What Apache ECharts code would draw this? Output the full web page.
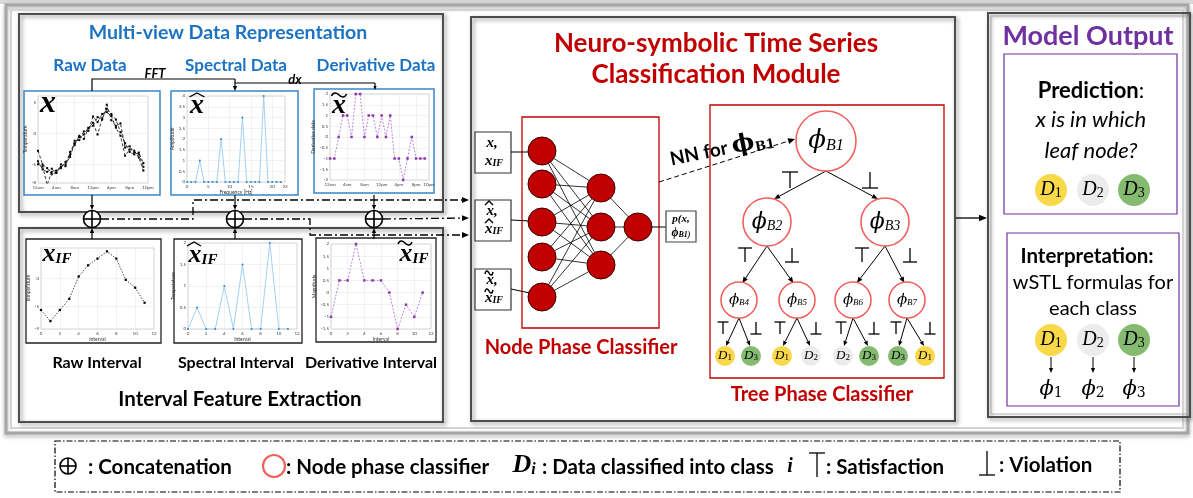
<!DOCTYPE html>
<html>
<head>
<meta charset="utf-8">
<script src="https://cdn.jsdelivr.net/npm/echarts@6/dist/echarts.min.js"></script>
<style>
html, body { margin: 0; padding: 0; background: #fff; }
#main { width: 1193px; height: 498px; }
</style>
</head>
<body>
<div id="main"></div>
<script>
// ---- data ----
var rawHours = [0, 1, 2, 3, 4, 5, 6, 7, 8, 9, 10, 11, 12, 13, 14, 15, 16, 17, 18, 19, 20, 21, 22, 23];
var rawA = [-2.8, -5, -5.6, -6.6, -6.3, -5.4, -5, -3.8, -1.6, -0.6, -0.2, 0.9, 1.2, 2.6, 2.2, 4.6, 2.1, 1.2, 1.6, -2.3, -2.1, -3.1, -3.4, -5.4];
var rawB = [-5, -5.3, -8.3, -6.2, -6, -5.6, -4.6, -3.4, -1.2, -1.1, 0.3, 0.4, 2.7, 1.8, 3.1, 3.4, 2.8, 0.9, -0.4, -3.6, -2.6, -2.8, -3.9, -6];
var rawC = [-4.5, -5.8, -6.2, -5.7, -6.4, -5, -5.3, -3, -1.9, -0.4, -0.9, 0.8, 1.7, -0.2, 2.4, 3.9, 3.1, 2.2, 0.2, -1.6, -3, -3.4, -3.1, -4.8];
var timeLabels = ['12am', '4am', '8am', '12pm', '4pm', '8pm', '10pm'];
var freqHz = [0, 1, 2, 3, 4, 5, 6, 7, 8, 9, 10, 11, 12, 13, 14, 15, 16, 17, 18, 19, 20, 21, 22];
var amplitude = [0, 0, 0, 1, 0, 0, 0, 0, 2, 0, 0, 0, 0, 3, 0, 0, 0, 0, 4, 0, 0, 0, 0];
var derivHours = [0, 1, 2, 3, 4, 5, 6, 7, 8, 9, 10, 11, 12, 13, 14, 15, 16, 17, 18, 19, 20, 21, 22];
var derivValues = [-1, -1, 0, 1, 1, 0, 2, 2, 0, 1, 1, 0, 1, 0, 1, -1, -1, -2, -1, 0, -1, -1, -1];
var intervals = [0, 1, 2, 3, 4, 5, 6, 7, 8, 9, 10, 11];
var rawInterval = [-5.6, -7.6, -5.6, -3.6, 0.4, 2.4, 3.6, 4.9, 3.6, -0.2, -1.6, -4.3];
var spectralInterval = [0, 0.5, 0, 0, 1, 0, 1.5, 0, 0, 2, 0, 0];
var derivInterval = [-1, 0.5, 0.5, 2, 0.5, 0.5, 0.5, 0, -1.5, -0.5, -1, 0];
var leafClasses = ['1', '3', '1', '2', '2', '3', '3', '1'];

var SANS = 'Lato, "Open Sans", sans-serif';
var SERIF = '"DejaVu Serif", "Liberation Serif", serif';
var MATH = '"Liberation Serif", "DejaVu Serif", serif';
var BLUE = '#1b73c2', RED = '#c00000', PURPLE = '#7030a0';
var classColor = { '1': '#f9d94a', '2': '#ececec', '3': '#85bb70' };

function pairs(xs, ys) {
    return xs.map(function (x, i) { return [x, ys[i]]; });
}

// ---- graphic helpers ----
var els = [];
function rect(x, y, w, h, st, z) {
    els.push({ type: 'rect', shape: { x: x, y: y, width: w, height: h }, style: st, z: z || 1 });
}
function circ(cx, cy, r, st, z) {
    els.push({ type: 'circle', shape: { cx: cx, cy: cy, r: r }, style: st, z: z || 3 });
}
function seg(x1, y1, x2, y2, st, z) {
    els.push({ type: 'line', shape: { x1: x1, y1: y1, x2: x2, y2: y2 },
        style: Object.assign({ stroke: '#000', lineWidth: 1 }, st || {}), z: z || 2 });
}
function poly(pts, st, z) {
    els.push({ type: 'polyline', shape: { points: pts },
        style: Object.assign({ stroke: '#000', lineWidth: 1, fill: null }, st || {}), z: z || 2 });
}
function txt(x, y, s, font, color, align, rot, rich) {
    var st = { text: s, font: font, fill: color || '#000', align: align || 'center', verticalAlign: 'middle' };
    if (rich) st.rich = rich;
    els.push({ type: 'text', x: x, y: y, rotation: rot || 0, style: st, z: 10 });
}
function arrow(pts, st, head) {
    var n = pts.length, a = pts[n - 2], b = pts[n - 1];
    var dx = b[0] - a[0], dy = b[1] - a[1], L = Math.sqrt(dx * dx + dy * dy);
    var ux = dx / L, uy = dy / L, h = head || 6, w = h * 0.42;
    var base = [b[0] - ux * h, b[1] - uy * h];
    poly(pts.slice(0, n - 1).concat([base]), st);
    els.push({ type: 'polygon', shape: { points: [b, [base[0] - uy * w, base[1] + ux * w], [base[0] + uy * w, base[1] - ux * w]] },
        style: { fill: (st && st.stroke) || '#000' }, z: 3 });
}
function oplus(cx, cy, r) {
    circ(cx, cy, r, { fill: '#fff', stroke: '#000', lineWidth: 1.6 });
    seg(cx - r, cy, cx + r, cy, { lineWidth: 1.6 }, 4);
    seg(cx, cy - r, cx, cy + r, { lineWidth: 1.6 }, 4);
}
function tee(x, y, w, h, up) {
    // up: satisfaction (bar on top), else violation (bar at bottom)
    if (up) { seg(x - w / 2, y - h / 2, x + w / 2, y - h / 2, { lineWidth: 1.3 }); }
    else { seg(x - w / 2, y + h / 2, x + w / 2, y + h / 2, { lineWidth: 1.3 }); }
    seg(x, y - h / 2, x, y + h / 2, { lineWidth: 1.3 });
}
function hat(cx, y, w) { poly([[cx - w / 2, y + 4], [cx, y], [cx + w / 2, y + 4]], { lineWidth: 1.4 }, 11); }
function tilde(cx, y, w) {
    els.push({ type: 'polyline', shape: { points: [[cx - w / 2, y + 3], [cx - w / 4, y], [cx + w / 4, y + 4], [cx + w / 2, y + 1]], smooth: 0.6 },
        style: { stroke: '#000', lineWidth: 1.5, fill: null }, z: 11 });
}
// symbol with subscript, e.g. phi_B1, D_1, x_IF
function symb(cx, cy, main, sub, size, font, subFont, color) {
    txt(cx, cy, '{m|' + main + '}{s|' + sub + '}', size + 'px ' + SERIF, color || '#000', 'center', 0, {
        m: { font: font, fill: color || '#000' },
        s: { font: subFont, fill: color || '#000', verticalAlign: 'bottom' }
    });
}
function dcircle(cx, cy, r, k, size) {
    circ(cx, cy, r, { fill: classColor[k], stroke: null });
    symb(cx, cy, 'D', k, size, 'italic ' + size + 'px ' + MATH, Math.round(size * 0.7) + 'px ' + MATH);
}

// ---- frame and panels ----
rect(0, 0, 1193, 4, { fill: '#d8d8d8' }, 0);
rect(6, 5, 1182, 428, { fill: null, stroke: '#a6a6a6', lineWidth: 3, shadowBlur: 4, shadowColor: 'rgba(0,0,0,0.35)', shadowOffsetY: 2 }, 1);
rect(11, 10, 1172, 418, { fill: null, stroke: '#d4d4d4', lineWidth: 2 }, 1);
var panelStyle = { fill: null, stroke: '#4d4d4d', lineWidth: 2, shadowBlur: 4, shadowColor: 'rgba(0,0,0,0.45)', shadowOffsetX: 2, shadowOffsetY: 2 };
rect(19, 14, 424, 198, panelStyle);
rect(19, 228, 424, 194, panelStyle);
rect(471, 17, 484, 404, panelStyle);
rect(988, 13, 202, 404, panelStyle);
rect(991, 16, 196, 398, { fill: null, stroke: '#b0b0b0', lineWidth: 1 });

// chart frames
var blueFrame = { fill: null, stroke: '#3a86c8', lineWidth: 1.5 };
var blackFrame = { fill: null, stroke: '#222', lineWidth: 1.3 };
rect(24, 91, 136, 104, blueFrame);
rect(171, 91, 127, 104, blueFrame);
rect(314, 89, 120, 104, blueFrame);
rect(26, 239, 135, 104, blackFrame);
rect(174, 239, 128, 104, blackFrame);
rect(316, 238, 120, 104, blackFrame);

// left panel texts
txt(228, 33, 'Multi-view Data Representation', 'bold 19.5px ' + SANS, BLUE);
txt(90, 66, 'Raw Data', 'bold 17px ' + SANS, BLUE);
txt(236, 66, 'Spectral Data', 'bold 17px ' + SANS, BLUE);
txt(376, 66, 'Derivative Data', 'bold 17px ' + SANS, BLUE);
txt(155, 74, 'FFT', 'bold italic 13px ' + SANS, '#000');
txt(295, 80, 'dx', 'bold italic 13px ' + SANS, '#000');
txt(97, 363, 'Raw Interval', 'bold 16px ' + SANS, '#000');
txt(236, 363, 'Spectral Interval', 'bold 16px ' + SANS, '#000');
txt(371, 363, 'Derivative Interval', 'bold 16px ' + SANS, '#000');
txt(240, 399, 'Interval Feature Extraction', 'bold 20.5px ' + SANS, '#000');

// FFT / dx connectors
poly([[92, 91], [92, 79], [235, 79]], { lineWidth: 1.2 });
arrow([[235, 79], [235, 91]], { stroke: '#000', lineWidth: 1.2 }, 5);
poly([[235, 83], [375, 83]], { lineWidth: 1.2 });
arrow([[375, 83], [375, 90]], { stroke: '#000', lineWidth: 1.2 }, 4);

// in-chart symbols
txt(48, 104, 'x', 'bold italic 32px ' + MATH, '#000');
txt(197, 106, 'x', 'bold italic 28px ' + MATH, '#000'); hat(197, 93, 15);
txt(339, 106, 'x', 'bold italic 28px ' + MATH, '#000'); tilde(339, 93, 15);
symb(57, 254, 'x', 'IF', 22, 'bold italic 26px ' + MATH, 'bold italic 15px ' + MATH);
symb(203, 255, 'x', 'IF', 22, 'bold italic 26px ' + MATH, 'bold italic 15px ' + MATH); hat(194, 242, 14);
symb(414, 254, 'x', 'IF', 22, 'bold italic 26px ' + MATH, 'bold italic 15px ' + MATH); tilde(405, 241, 14);

// oplus and arrows
var oxs = [92, 235, 374];
oxs.forEach(function (x) {
    oplus(x, 219, 8.5);
    arrow([[x, 195], [x, 210]], { stroke: '#000', lineWidth: 1.2 }, 5);
    arrow([[x, 239], [x, 228]], { stroke: '#000', lineWidth: 1.2 }, 5);
});
var dd = { stroke: '#000', lineWidth: 1.3, lineDash: [8, 3, 2, 3] };
arrow([[101, 219], [193, 219], [193, 200], [469, 200]], dd, 7);
arrow([[244, 219], [310, 219], [310, 235], [469, 235]], dd, 7);
arrow([[383, 219], [469, 218]], dd, 7);

// ---- neuro-symbolic module ----
txt(716, 44, 'Neuro-symbolic Time Series', 'bold 26px ' + SANS, RED);
txt(716, 75, 'Classification Module', 'bold 26px ' + SANS, RED);
rect(522, 117, 137, 211, { fill: null, stroke: RED, lineWidth: 1.3 });
txt(581, 348, 'Node Phase Classifier', 'bold 20px ' + SANS, RED);
rect(710, 105, 234, 273, { fill: null, stroke: RED, lineWidth: 1.3 });
txt(822, 395, 'Tree Phase Classifier', 'bold 20px ' + SANS, RED);

// input boxes
var inY = [152, 220, 289];
inY.forEach(function (y, i) {
    rect(475, y - 20, 36, 41, { fill: '#fff', stroke: '#333', lineWidth: 1.2 }, 2);
    txt(492, y - 9, 'x,', 'bold italic 15px ' + MATH, '#000');
    symb(494, y + 9, 'x', 'IF', 15, 'bold italic 15px ' + MATH, 'bold italic 10px ' + MATH);
    if (i === 1) { hat(489, y - 19, 8); hat(489, y - 1, 8); }
    if (i === 2) { tilde(489, y - 18, 8); tilde(489, y, 8); }
});
// neural net
var l1 = [151, 184, 222, 257, 297], l2 = [188, 227, 265], l3 = [227];
var nnX = [542, 601, 638], nr = 14;
l1.forEach(function (a) { l2.forEach(function (b) { seg(nnX[0], a, nnX[1], b, { lineWidth: 0.8 }); }); });
l2.forEach(function (a) { seg(nnX[1], a, nnX[2], l3[0], { lineWidth: 0.8 }); });
seg(511, 152, 530, 152, { lineWidth: 1 });
seg(511, 220, 530, 221, { lineWidth: 1 });
seg(511, 289, 530, 293, { lineWidth: 1 });
seg(nnX[2], 227, 666, 227, { lineWidth: 1 });
var nodeSt = { fill: '#c00000', stroke: '#3a0000', lineWidth: 1 };
l1.forEach(function (y) { circ(nnX[0], y, nr, nodeSt); });
l2.forEach(function (y) { circ(nnX[1], y, nr, nodeSt); });
circ(nnX[2], l3[0], nr, nodeSt);
rect(666, 211, 30, 31, { fill: '#fff', stroke: '#444', lineWidth: 1.2 }, 2);
txt(681, 219, 'p(x,', 'bold italic 11px ' + MATH, '#000');
symb(681, 233, 'ϕ', 'B1)', 11, 'bold italic 12px ' + MATH, 'bold italic 8px ' + MATH);

// NN for phi_B1
arrow([[659, 182], [795, 139]], { stroke: '#000', lineWidth: 1, lineDash: [5, 3] }, 7);
txt(722, 149, '{t|NN for }{m|ϕ}{s|B1}', 'bold 19px ' + SANS, '#000', 'center', 0.2, {
    t: { font: 'bold 19px ' + SANS },
    m: { font: 'bold 24px ' + SERIF },
    s: { font: 'bold 13px ' + SERIF, verticalAlign: 'bottom' }
});

// tree
var tree = [
    { x: 826, y: 141, r: 30, n: 'B1', f: 26 },
    { x: 767, y: 222, r: 24, n: 'B2', f: 22 },
    { x: 885, y: 222, r: 24, n: 'B3', f: 22 },
    { x: 739, y: 300, r: 18, n: 'B4', f: 15 },
    { x: 797, y: 300, r: 18, n: 'B5', f: 15 },
    { x: 853, y: 300, r: 18, n: 'B6', f: 15 },
    { x: 907, y: 300, r: 18, n: 'B7', f: 15 }
];
var edgeSt = { stroke: '#000', lineWidth: 1 };
function treeEdge(p, c) {
    var a = tree[p], b = tree[c];
    arrow([[a.x, a.y + a.r], [b.x + (a.x - b.x) * 0.12, b.y - b.r + 1]], edgeSt, 6);
}
treeEdge(0, 1); treeEdge(0, 2);
treeEdge(1, 3); treeEdge(1, 4); treeEdge(2, 5); treeEdge(2, 6);
tee(790, 180, 16, 16, true); tee(870, 180, 16, 16, false);
tee(745, 255, 14, 14, true); tee(792, 255, 14, 14, false);
tee(862, 255, 14, 14, true); tee(910, 255, 14, 14, false);
tree.forEach(function (t) {
    circ(t.x, t.y, t.r, { fill: '#fff', stroke: '#f0605c', lineWidth: 1.6 });
    symb(t.x, t.y, 'ϕ', t.n, t.f, 'italic ' + t.f + 'px ' + SERIF, 'italic ' + Math.round(t.f * 0.62) + 'px ' + MATH);
});
var leafX = [725, 751, 782, 811, 843, 869, 898, 925];
leafClasses.forEach(function (k, i) {
    var parent = tree[3 + Math.floor(i / 2)];
    arrow([[parent.x, parent.y + parent.r], [leafX[i] + (i % 2 ? -1 : 1), 346]], edgeSt, 5);
    dcircle(leafX[i], 356, 10, k, 13);
    var tx = leafX[i] + (i % 2 ? 5 : -2);
    tee(tx, 328, 11, 12, i % 2 === 0);
});

// to model output
arrow([[956, 218], [987, 218]], { stroke: '#000', lineWidth: 1.3 }, 8);

// ---- model output ----
txt(1088, 36, 'Model Output', 'bold 27px ' + SANS, PURPLE);
rect(1004, 54, 173, 160, { fill: null, stroke: PURPLE, lineWidth: 1.2 });
rect(1007, 233, 172, 173, { fill: null, stroke: PURPLE, lineWidth: 1.2 });
txt(1091, 91, '{b|Prediction}{n|:}', '22px ' + SANS, '#000', 'center', 0, {
    b: { font: 'bold 22px ' + SANS }, n: { font: '22px ' + SANS }
});
txt(1091, 120, 'x is in which', 'italic 22px ' + SANS, '#000');
txt(1091, 151, 'leaf node?', 'italic 22px ' + SANS, '#000');
var outX = [1051, 1093, 1134];
['1', '2', '3'].forEach(function (k, i) {
    dcircle(outX[i], 190, 16, k, 20);
    dcircle(outX[i], 340, 16, k, 20);
    arrow([[outX[i], 357], [outX[i], 373]], { stroke: '#000', lineWidth: 1 }, 5);
    symb(outX[i], 390, 'ϕ', k, 20, 'italic 21px ' + SERIF, '14px ' + SERIF);
});
txt(1087, 256, 'Interpretation:', 'bold 20.5px ' + SANS, '#000');
txt(1093, 283, 'wSTL formulas for', '20px ' + SANS, '#000');
txt(1093, 309, 'each class', '20px ' + SANS, '#000');

// ---- legend ----
rect(55, 441, 1065, 51, { fill: null, stroke: '#000', lineWidth: 1.2, lineDash: [6, 2, 1.5, 2] });
oplus(68, 466, 8);
txt(88, 467, ': Concatenation', 'bold 20.5px ' + SANS, '#000', 'left');
circ(274, 466, 11, { fill: '#fff', stroke: '#f0605c', lineWidth: 2.2 });
txt(286, 467, ': Node phase classifier', 'bold 20.5px ' + SANS, '#000', 'left');
symb(524, 465, 'D', 'i', 26, 'bold italic 26px ' + MATH, 'bold italic 16px ' + MATH);
txt(542, 467, ': Data classified into class', 'bold 20.5px ' + SANS, '#000', 'left');
txt(790, 467, 'i', 'bold italic 20px ' + MATH, '#000');
tee(817, 465, 16, 24, true);
txt(826, 467, ': Satisfaction', 'bold 20.5px ' + SANS, '#000', 'left');
tee(987, 463, 16, 24, false);
txt(999, 465, ': Violation', 'bold 20.5px ' + SANS, '#000', 'left');

// ---- small charts ----
var grids = [
    { left: 38, top: 96, width: 110, height: 87 },
    { left: 187, top: 96, width: 98, height: 86 },
    { left: 330, top: 94, width: 99, height: 86 },
    { left: 41, top: 248, width: 113, height: 81 },
    { left: 188, top: 243, width: 109, height: 86 },
    { left: 331, top: 244, width: 100, height: 85 }
].map(function (g) {
    return Object.assign({ show: true, borderColor: '#b8b8b8', borderWidth: 0.6, backgroundColor: '#fff', z: 0 }, g);
});

function axis(gi, dim, o) {
    var a = {
        type: 'value', gridIndex: gi, min: o.min, max: o.max, interval: o.interval,
        name: o.name, nameLocation: 'middle', nameGap: dim === 'x' ? 7 : 10,
        nameTextStyle: { fontSize: 5, color: '#333', fontFamily: SANS },
        axisLine: { show: false }, axisTick: { show: false },
        axisLabel: { fontSize: 4.5, color: '#444', margin: 2, fontFamily: SANS, formatter: o.fmt, customValues: o.custom },
        splitLine: { show: true, lineStyle: { color: '#e4e4e4', width: 0.5 } },
        z: 1
    };
    if (o.custom) { a.axisTick = { show: false, customValues: o.custom }; }
    return a;
}
function timeFmt(v) { return timeLabels[Math.round(v / 4)] || ''; }

var xAxes = [
    axis(0, 'x', { min: 0, max: 24, interval: 4, fmt: timeFmt }),
    axis(1, 'x', { min: 0, max: 23, interval: 5, name: 'Frequency [Hz]' }),
    axis(2, 'x', { min: 0, max: 23, interval: 4, fmt: timeFmt }),
    axis(3, 'x', { min: 0, max: 12, interval: 2, name: 'Interval' }),
    axis(4, 'x', { min: 0, max: 12, interval: 2, name: 'Interval' }),
    axis(5, 'x', { min: 0, max: 12, interval: 2, name: 'Interval' })
];
var yAxes = [
    axis(0, 'y', { min: -8, max: 6, custom: [-8, -5, 0, 5], name: 'Temperature' }),
    axis(1, 'y', { min: 0, max: 4, interval: 0.5, name: 'Amplitude' }),
    axis(2, 'y', { min: -2, max: 2, interval: 0.5, name: 'Derivative data' }),
    axis(3, 'y', { min: -9, max: 5.5, custom: [-9, -5, 0], name: 'Temperature' }),
    axis(4, 'y', { min: 0, max: 2, interval: 0.5, name: 'Temperature' }),
    axis(5, 'y', { min: -1.5, max: 2, interval: 0.5, name: 'Magnitude' })
];

function lineSeries(gi, data, color, dotColor, type, symbol, size) {
    return {
        type: 'line', xAxisIndex: gi, yAxisIndex: gi, data: data, z: 3,
        symbol: symbol, symbolSize: size, silent: true, animation: false,
        lineStyle: { color: color, width: 0.9, type: type },
        itemStyle: { color: dotColor }
    };
}
var series = [
    lineSeries(0, pairs(rawHours, rawA), '#222', '#000', [3, 2], 'rect', 2),
    lineSeries(0, pairs(rawHours, rawB), '#222', '#000', [3, 2], 'rect', 2),
    lineSeries(0, pairs(rawHours, rawC), '#222', '#000', [3, 2], 'rect', 2),
    lineSeries(1, pairs(freqHz, amplitude), '#9ccaee', '#2f86d0', 'solid', 'circle', 2),
    lineSeries(2, pairs(derivHours, derivValues), '#b878d8', '#8a3aaa', [2, 1.5], 'rect', 2.5),
    lineSeries(3, pairs(intervals, rawInterval), '#333', '#000', [1.5, 1.5], 'rect', 2.2),
    lineSeries(4, pairs(intervals, spectralInterval), '#9ccaee', '#2f86d0', 'solid', 'circle', 2),
    lineSeries(5, pairs(intervals, derivInterval), '#b878d8', '#8a3aaa', [2, 1.5], 'rect', 2.5)
];

var chart = echarts.init(document.getElementById('main'), null, { renderer: 'canvas' });
chart.setOption({
    animation: false,
    backgroundColor: '#fff',
    grid: grids,
    xAxis: xAxes,
    yAxis: yAxes,
    series: series,
    graphic: { elements: els }
});
</script>
</body>
</html>
